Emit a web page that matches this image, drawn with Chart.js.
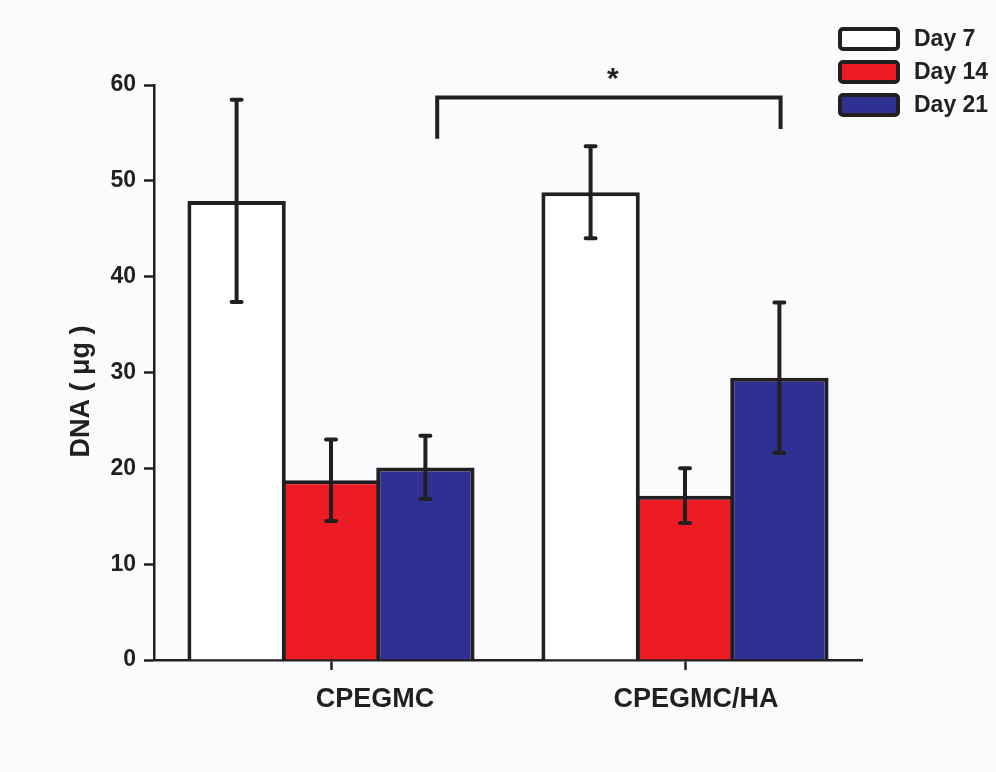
<!DOCTYPE html>
<html>
<head>
<meta charset="utf-8">
<script src="https://cdn.jsdelivr.net/npm/chart.js@4/dist/chart.umd.min.js"></script>
<style>
  html, body { margin: 0; padding: 0; background: #fafbfd; }
  canvas { display: block; }
</style>
</head>
<body>
<canvas id="chart" width="996" height="772"></canvas>
<script>
// Groups on the x axis and the three time points
const groups = ['CPEGMC', 'CPEGMC/HA'];
const seriesNames = ['Day 7', 'Day 14', 'Day 21'];

// Mean DNA content (µg) per group
const day7 = [47.9, 48.8];
const day14 = [18.75, 17.15];
const day21 = [20.1, 29.45];

// Standard deviations (error bar half-lengths)
const day7Err = [10.55, 4.8];
const day14Err = [4.25, 2.85];
const day21Err = [3.3, 7.85];

const yTicks = [0, 10, 20, 30, 40, 50, 60];
const seriesColors = ['#ffffff', '#ed1c24', '#2e3192'];
const axisTitle = 'DNA ( μg )';

// Significance bracket between the Day 21 bars (x in category index units)
const sigMark = '*';
const sigSpan = [0.30, 1.27];
const sigLevel = 58.7;
const sigFeet = [54.4, 55.4];

const INK = '#231f20';
const FONT = '"Liberation Sans", Arial, Helvetica, sans-serif';
// group captions sit a little right of their tick marks (px)
const captionShift = [44, 11];

const errorBars = {
  id: 'errorBars',
  afterDatasetsDraw(chart) {
    const { ctx } = chart;
    const y = chart.scales.y;
    ctx.save();
    ctx.strokeStyle = INK;
    ctx.lineWidth = 4;
    ctx.lineCap = 'round';
    chart.data.datasets.forEach((ds, i) => {
      chart.getDatasetMeta(i).data.forEach((bar, j) => {
        const v = ds.data[j], e = ds.errors[j];
        const x = bar.x;
        const yt = y.getPixelForValue(v + e);
        const yb = y.getPixelForValue(v - e);
        ctx.beginPath();
        ctx.moveTo(x, yt); ctx.lineTo(x, yb);
        ctx.moveTo(x - 5, yt); ctx.lineTo(x + 5, yt);
        ctx.moveTo(x - 5, yb); ctx.lineTo(x + 5, yb);
        ctx.stroke();
      });
    });
    ctx.restore();
  }
};

const decorations = {
  id: 'decorations',
  beforeDraw(chart) {
    const { ctx } = chart;
    ctx.save();
    ctx.fillStyle = '#fafbfd';
    ctx.fillRect(0, 0, chart.width, chart.height);
    ctx.restore();
  },
  afterDraw(chart) {
    const { ctx, chartArea } = chart;
    const x = chart.scales.x, y = chart.scales.y;
    ctx.save();

    // group captions under the x axis
    ctx.fillStyle = INK;
    ctx.font = 'bold 27px ' + FONT;
    ctx.textAlign = 'center';
    ctx.textBaseline = 'alphabetic';
    groups.forEach((g, i) => {
      ctx.fillText(g, x.getPixelForValue(i) + captionShift[i], chartArea.bottom + 47);
    });

    // y axis title
    ctx.translate(89, (chartArea.top + chartArea.bottom) / 2 + 19);
    ctx.rotate(-Math.PI / 2);
    ctx.textAlign = 'center';
    ctx.textBaseline = 'alphabetic';
    ctx.fillText(axisTitle, 0, 0);
    ctx.setTransform(1, 0, 0, 1, 0, 0);

    // significance bracket
    const xl = x.getPixelForValue(sigSpan[0]);
    const xr = x.getPixelForValue(sigSpan[1]);
    const yTop = y.getPixelForValue(sigLevel);
    ctx.strokeStyle = INK;
    ctx.lineWidth = 4;
    ctx.lineCap = 'butt';
    ctx.lineJoin = 'miter';
    ctx.beginPath();
    ctx.moveTo(xl, y.getPixelForValue(sigFeet[0]));
    ctx.lineTo(xl, yTop);
    ctx.lineTo(xr, yTop);
    ctx.lineTo(xr, y.getPixelForValue(sigFeet[1]));
    ctx.stroke();
    ctx.font = 'bold 30px ' + FONT;
    ctx.textAlign = 'center';
    ctx.textBaseline = 'alphabetic';
    ctx.fillText(sigMark, (xl + xr) / 2 + 4, yTop - 9);

    // legend
    chart.data.datasets.forEach((ds, i) => {
      const bx = 840, by = 29 + i * 33, bw = 58, bh = 20;
      ctx.beginPath();
      ctx.roundRect(bx, by, bw, bh, 3);
      ctx.fillStyle = ds.backgroundColor;
      ctx.fill();
      ctx.lineWidth = 4;
      ctx.strokeStyle = INK;
      ctx.stroke();
      ctx.fillStyle = INK;
      ctx.font = 'bold 23px ' + FONT;
      ctx.textAlign = 'left';
      ctx.textBaseline = 'middle';
      ctx.fillText(ds.label, 914, by + bh / 2 + 1);
    });
    ctx.restore();
  }
};

const errs = [day7Err, day14Err, day21Err];
const vals = [day7, day14, day21];

new Chart(document.getElementById('chart'), {
  type: 'bar',
  data: {
    labels: groups,
    datasets: seriesNames.map((name, i) => ({
      label: name,
      data: vals[i],
      errors: errs[i],
      backgroundColor: seriesColors[i],
      borderColor: INK,
      borderWidth: 4,
      borderSkipped: 'start',
      barPercentage: 1.042,
      categoryPercentage: 0.80
    }))
  },
  options: {
    responsive: false,
    animation: false,
    events: [],
    layout: { padding: { left: 0, top: 85, right: 134, bottom: 0 } },
    plugins: {
      legend: { display: false },
      tooltip: { enabled: false },
      title: { display: false }
    },
    scales: {
      x: {
        offset: true,
        afterFit(scale) { scale.height = 112; },
        grid: {
          offset: false,
          drawOnChartArea: false,
          drawTicks: true,
          tickLength: 10,
          tickWidth: 2.5,
          tickColor: INK
        },
        border: { display: true, color: INK, width: 2.5 },
        ticks: { display: false }
      },
      y: {
        min: 0,
        max: 60,
        afterFit(scale) { scale.width = 154; },
        afterBuildTicks(scale) { scale.ticks = yTicks.map(v => ({ value: v })); },
        grid: {
          drawOnChartArea: false,
          drawTicks: true,
          tickLength: 10,
          tickWidth: 2.5,
          tickColor: INK
        },
        border: { display: true, color: INK, width: 2.5 },
        ticks: {
          color: INK,
          padding: 8,
          font: { family: FONT, size: 23, weight: 'bold' }
        }
      }
    }
  },
  plugins: [errorBars, decorations]
});
</script>
</body>
</html>
